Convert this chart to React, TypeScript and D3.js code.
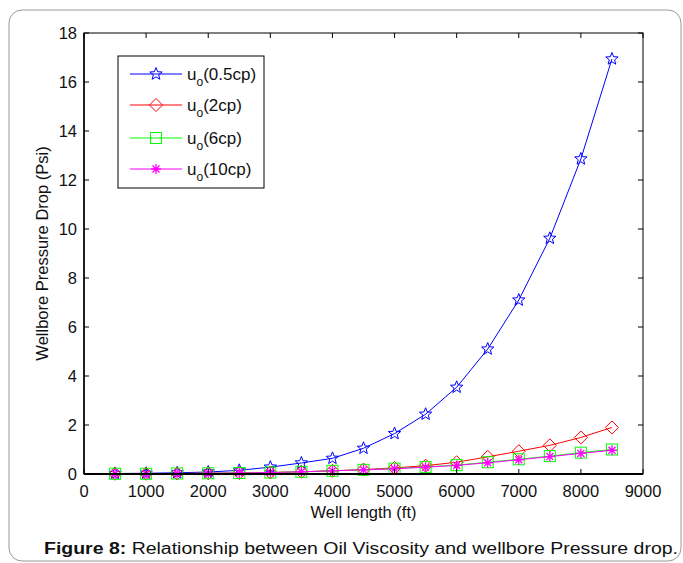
import React from "react";
import * as d3 from "d3";

const wellLength = [500, 1000, 1500, 2000, 2500, 3000, 3500, 4000, 4500, 5000, 5500, 6000, 6500, 7000, 7500, 8000, 8500];
const u05 = [0.02, 0.03, 0.05, 0.08, 0.15, 0.28, 0.45, 0.64, 1.05, 1.65, 2.44, 3.54, 5.1, 7.1, 9.62, 12.86, 16.94];
const u2 = [0.01, 0.01, 0.02, 0.03, 0.04, 0.06, 0.09, 0.13, 0.18, 0.25, 0.34, 0.48, 0.7, 0.93, 1.17, 1.49, 1.9];
const u6 = [0.01, 0.01, 0.02, 0.03, 0.04, 0.06, 0.09, 0.13, 0.17, 0.22, 0.29, 0.36, 0.48, 0.6, 0.73, 0.87, 1.0];
const u10 = [0.01, 0.01, 0.02, 0.03, 0.04, 0.06, 0.09, 0.13, 0.17, 0.21, 0.28, 0.35, 0.46, 0.58, 0.71, 0.84, 0.97];
const seriesNames = ["(0.5cp)", "(2cp)", "(6cp)", "(10cp)"];
const seriesColors = ["#0000ff", "#ff0000", "#00ff00", "#ff00ff"];
const markerKinds = ["star", "diamond", "square", "asterisk"];
const xTicks = [0, 1000, 2000, 3000, 4000, 5000, 6000, 7000, 8000, 9000];
const yTicks = [0, 2, 4, 6, 8, 10, 12, 14, 16, 18];

const FONT = "'Liberation Sans', Arial, sans-serif";

function Marker({ kind, x, y, color }: { kind: string; x: number; y: number; color: string }) {
  if (kind === "star") {
    const pts: string[] = [];
    for (let i = 0; i < 10; i++) {
      const r = i % 2 === 0 ? 6.5 : 2.8;
      const a = -Math.PI / 2 + (i * Math.PI) / 5;
      pts.push(`${x + r * Math.cos(a)},${y + r * Math.sin(a)}`);
    }
    return <polygon points={pts.join(" ")} fill="none" stroke={color} strokeWidth={1} />;
  }
  if (kind === "diamond") {
    const r = 6.5;
    return <polygon points={`${x},${y - r} ${x + r},${y} ${x},${y + r} ${x - r},${y}`} fill="none" stroke={color} strokeWidth={1} />;
  }
  if (kind === "square") {
    const r = 5.5;
    return <rect x={x - r} y={y - r} width={2 * r} height={2 * r} fill="none" stroke={color} strokeWidth={1} />;
  }
  const r = 5;
  const segs = [0, 45, 90, 135].map((deg) => {
    const a = (deg * Math.PI) / 180;
    return `M${x - r * Math.cos(a)},${y - r * Math.sin(a)}L${x + r * Math.cos(a)},${y + r * Math.sin(a)}`;
  });
  return <path d={segs.join("")} stroke={color} strokeWidth={1.3} fill="none" />;
}

export default function App() {
  const W = 683, H = 563;
  const left = 84, right = 643, top = 33, bottom = 474;
  const x = d3.scaleLinear().domain([0, 9000]).range([left, right]);
  const y = d3.scaleLinear().domain([0, 18]).range([bottom, top]);
  const allSeries = [u05, u2, u6, u10];
  const line = d3
    .line<number>()
    .x((_, i) => x(wellLength[i]))
    .y((d) => y(d));
  const tl = 5;

  const legendX = 118, legendY = 56, legendW = 146, legendH = 132;
  const entryYs = [74, 105, 138, 169];

  return (
    <svg width={W} height={H} style={{ position: "absolute", left: 0, top: 0 }} fontFamily={FONT}>
      <rect x={0} y={0} width={W} height={H} fill="#fff" />
      <rect x={9} y={10} width={672} height={551} rx={13} ry={13} fill="none" stroke="#999" strokeWidth={1} />
      {/* series */}
      {allSeries.map((s, si) => (
        <g key={si}>
          <path d={line(s) || ""} fill="none" stroke={seriesColors[si]} strokeWidth={1} />
          {s.map((v, i) => (
            <Marker key={i} kind={markerKinds[si]} x={x(wellLength[i])} y={y(v)} color={seriesColors[si]} />
          ))}
        </g>
      ))}
      {/* axes box */}
      <rect x={left} y={top} width={right - left} height={bottom - top} fill="none" stroke="#000" strokeWidth={1} />
      <line x1={left} x2={right} y1={bottom} y2={bottom} stroke="#000" strokeWidth={2} />
      <line x1={left} x2={left} y1={top} y2={bottom} stroke="#000" strokeWidth={1.5} />
      {xTicks.map((t) => (
        <g key={t}>
          <line x1={x(t)} x2={x(t)} y1={bottom} y2={bottom - tl} stroke="#000" />
          <line x1={x(t)} x2={x(t)} y1={top} y2={top + tl} stroke="#000" />
          <text x={x(t)} y={496.5} fontSize={16.5} textAnchor="middle" fill="#111">
            {t}
          </text>
        </g>
      ))}
      {yTicks.map((t) => (
        <g key={t}>
          <line x1={left} x2={left + tl} y1={y(t)} y2={y(t)} stroke="#000" />
          <line x1={right} x2={right - tl} y1={y(t)} y2={y(t)} stroke="#000" />
          <text x={77} y={y(t) + 6} fontSize={16.5} textAnchor="end" fill="#111">
            {t}
          </text>
        </g>
      ))}
      <text x={363.5} y={518} fontSize={16.5} textAnchor="middle" fill="#111">
        Well length (ft)
      </text>
      <text transform={`translate(48,${(top + bottom) / 2}) rotate(-90)`} fontSize={16.5} textAnchor="middle" fill="#111">
        Wellbore Pressure Drop (Psi)
      </text>
      {/* legend */}
      <rect x={legendX} y={legendY} width={legendW} height={legendH} fill="#fff" stroke="#000" strokeWidth={1} />
      {seriesNames.map((n, i) => (
        <g key={n}>
          <line x1={130} x2={182} y1={entryYs[i]} y2={entryYs[i]} stroke={seriesColors[i]} strokeWidth={1} />
          <Marker kind={markerKinds[i]} x={156} y={entryYs[i]} color={seriesColors[i]} />
          <text x={187} y={entryYs[i] + 6} fontSize={17} fill="#111">
            u<tspan fontSize={12} dy={6}>o</tspan>
            <tspan dy={-6}>{n}</tspan>
          </text>
        </g>
      ))}
      <text x={44} y={553.5} fontSize={16} textAnchor="start" fill="#111" textLength={634} lengthAdjust="spacingAndGlyphs">
        <tspan fontWeight="bold">Figure 8:</tspan> Relationship between Oil Viscosity and wellbore Pressure drop.
      </text>
    </svg>
  );
}
